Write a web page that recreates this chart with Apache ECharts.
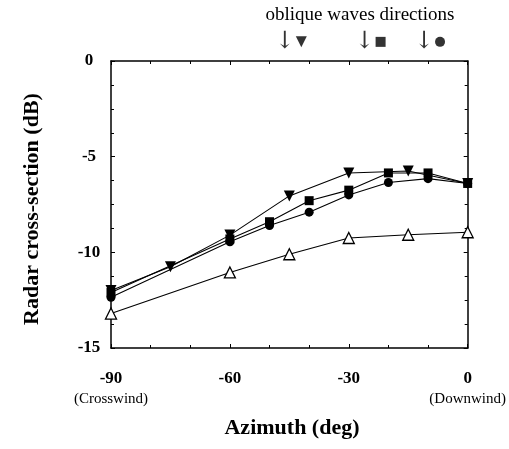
<!DOCTYPE html>
<html>
<head>
<meta charset="utf-8">
<script src="https://cdn.jsdelivr.net/npm/echarts@6/dist/echarts.min.js"></script>
<style>
  html, body { margin: 0; padding: 0; background: #fff; }
  #chart { width: 509px; height: 449px; }
</style>
</head>
<body>
<div id="chart"></div>
<script>
// Radar cross-section versus azimuth, four wave conditions
const xTicks = [-90, -60, -30, 0];
const xTickNotes = { '-90': '(Crosswind)', '0': '(Downwind)' };
const yTicks = [0, -5, -10, -15];

const triDownX = [-90, -75, -60, -45, -30, -15, 0];
const triDownY = [-12.0, -10.75, -9.1, -7.05, -5.85, -5.75, -6.4];

const squareX = [-90, -60, -50, -40, -30, -20, -10, 0];
const squareY = [-12.1, -9.3, -8.4, -7.3, -6.75, -5.85, -5.85, -6.4];

const circleX = [-90, -60, -50, -40, -30, -20, -10, 0];
const circleY = [-12.35, -9.45, -8.6, -7.9, -7.0, -6.35, -6.15, -6.4];

const openTriX = [-90, -60, -45, -30, -15, 0];
const openTriY = [-13.2, -11.05, -10.1, -9.25, -9.08, -8.95];

// oblique wave directions (deg) marked above the frame
const waveDirX = [-45, -25, -10];
const waveDirMarks = ['triDown', 'square', 'circle'];
const waveDirLevel = 1.0;

const serif = '"Liberation Serif", "DejaVu Serif", serif';
const pairs = (xs, ys) => xs.map((x, i) => [x, ys[i]]);

const symbolOf = {
  triDown: { symbol: 'triangle', rotate: 180, size: 11 },
  square: { symbol: 'rect', rotate: 0, size: 9 },
  circle: { symbol: 'circle', rotate: 0, size: 9 }
};

function lineSeries(name, xs, ys, mark, hollow) {
  const s = symbolOf[mark] || { symbol: 'triangle', rotate: 0, size: 11 };
  return {
    name, type: 'line', data: pairs(xs, ys),
    symbol: s.symbol, symbolRotate: s.rotate, symbolSize: s.size,
    showAllSymbol: true,
    lineStyle: { color: '#000', width: 1.1 },
    itemStyle: hollow
      ? { color: '#fff', borderColor: '#000', borderWidth: 1.3 }
      : { color: '#000', borderWidth: 0 },
    z: hollow ? 2 : 3,
    animation: false
  };
}

const axisLineStyle = { onZero: false, lineStyle: { color: '#000', width: 1.5 } };
const tickStyle = { inside: true, length: 4, lineStyle: { color: '#000', width: 1 } };
const minorStyle = { lineStyle: { color: '#000', width: 1 }, length: 3 };

const chart = echarts.init(document.getElementById('chart'), null, { renderer: 'canvas' });

chart.setOption({
  backgroundColor: '#fff',
  animation: false,
  grid: { left: 111, right: 35, top: 61, bottom: 101 },
  xAxis: [
    {
      type: 'value', min: xTicks[0], max: xTicks[xTicks.length - 1], interval: 30,
      position: 'bottom',
      axisLine: axisLineStyle,
      axisTick: tickStyle,
      minorTick: Object.assign({ show: true, splitNumber: 3 }, minorStyle),
      splitLine: { show: false },
      axisLabel: {
        margin: 22,
        formatter: v => {
          const note = xTickNotes[String(v)];
          return note ? '{a|' + v + '}\n{b|' + note + '}' : '{a|' + v + '}';
        },
        rich: {
          a: { fontFamily: serif, fontWeight: 'bold', fontSize: 17, color: '#000', lineHeight: 18 },
          b: { fontFamily: serif, fontSize: 15, color: '#000', lineHeight: 22 }
        }
      }
    },
    {
      type: 'value', min: xTicks[0], max: xTicks[xTicks.length - 1], interval: 30,
      position: 'top',
      axisLine: axisLineStyle,
      axisTick: tickStyle,
      minorTick: Object.assign({ show: true, splitNumber: 3 }, minorStyle),
      splitLine: { show: false },
      axisLabel: { show: false }
    }
  ],
  yAxis: [
    {
      type: 'value', min: yTicks[yTicks.length - 1], max: yTicks[0], interval: 5,
      position: 'left',
      axisLine: axisLineStyle,
      axisTick: tickStyle,
      minorTick: Object.assign({ show: true, splitNumber: 4 }, minorStyle),
      splitLine: { show: false },
      axisLabel: {
        margin: 22, align: 'center',
        fontFamily: serif, fontWeight: 'bold', fontSize: 17, color: '#000'
      }
    },
    {
      type: 'value', min: yTicks[yTicks.length - 1], max: yTicks[0], interval: 5,
      position: 'right',
      axisLine: axisLineStyle,
      axisTick: tickStyle,
      minorTick: Object.assign({ show: true, splitNumber: 4 }, minorStyle),
      splitLine: { show: false },
      axisLabel: { show: false }
    }
  ],
  graphic: [
    {
      type: 'text',
      style: {
        x: 360, y: 15, text: 'oblique waves directions', align: 'center', verticalAlign: 'middle',
        font: '19px ' + serif, fill: '#000'
      }
    },
    {
      type: 'text',
      style: {
        x: 292, y: 428, text: 'Azimuth (deg)', align: 'center', verticalAlign: 'middle',
        font: 'bold 22px ' + serif, fill: '#000'
      }
    },
    {
      type: 'text', x: 32, y: 209, rotation: Math.PI / 2,
      style: {
        x: 0, y: 0, text: 'Radar cross-section (dB)', align: 'center', verticalAlign: 'middle',
        font: 'bold 22px ' + serif, fill: '#000'
      }
    }
  ],
  series: [
    lineSeries('open', openTriX, openTriY, 'openTri', true),
    lineSeries('circle', circleX, circleY, 'circle', false),
    lineSeries('square', squareX, squareY, 'square', false),
    lineSeries('triDown', triDownX, triDownY, 'triDown', false),
    {
      name: 'waveDirections', type: 'scatter', clip: false,
      data: waveDirX.map((x, i) => {
        const s = symbolOf[waveDirMarks[i]];
        return {
          value: [x, waveDirLevel],
          symbol: s.symbol, symbolRotate: s.rotate,
          symbolSize: waveDirMarks[i] === 'triDown' ? 11 : 10
        };
      }),
      symbolOffset: [12, 0],
      itemStyle: { color: '#000' },
      label: {
        show: true, position: 'left', distance: 1, formatter: '\u2193',
        fontFamily: '"DejaVu Serif", serif', fontSize: 24, color: '#000'
      },
      animation: false
    }
  ]
});
</script>
</body>
</html>
